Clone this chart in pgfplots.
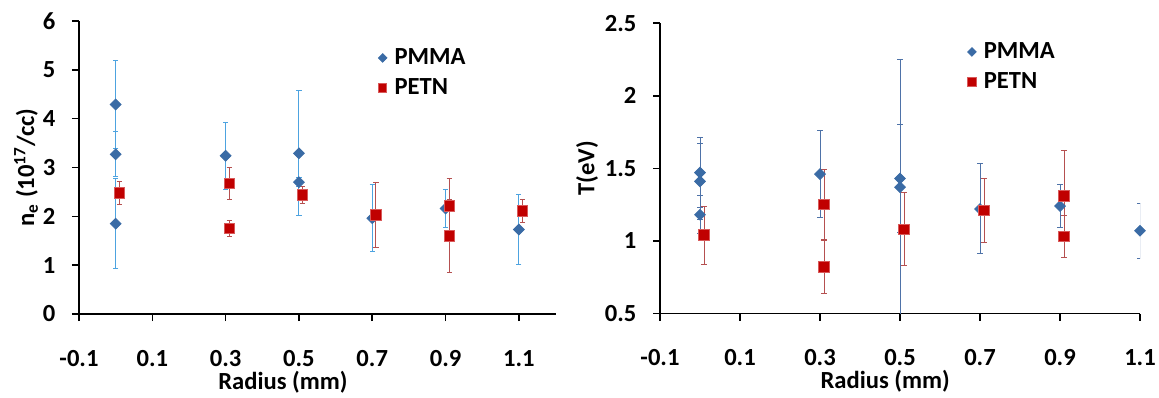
\documentclass[border=0pt]{standalone}
\usepackage{pgfplots}
\usepackage{pgfplotstable}
\pgfplotsset{compat=1.18}
\usepackage{fontspec}
\setmainfont{Carlito}

\definecolor{pmma}{HTML}{3A6BA5}
\definecolor{pmmaerrL}{HTML}{4DA3E0}
\definecolor{pmmaerrR}{HTML}{4E72A8}
\definecolor{petn}{HTML}{C00000}
\definecolor{petnedge}{HTML}{D85A5A}
\definecolor{petnerr}{HTML}{B55050}

% Left chart: electron density
\pgfplotstableread{
x     y     e
0.00  4.29  0.91
0.00  3.27  0.46
0.00  1.85  0.92
0.30  3.24  0.69
0.50  3.29  1.28
0.50  2.70  0.09
0.70  1.96  0.69
0.90  2.16  0.39
1.10  1.73  0.72
}\nePMMA
\pgfplotstableread{
x     y     e
0.01  2.48  0.23
0.31  2.68  0.33
0.31  1.75  0.17
0.51  2.44  0.17
0.71  2.03  0.66
0.91  2.21  0.56
0.91  1.60  0.75
1.11  2.11  0.23
}\nePETN
% Right chart: temperature
\pgfplotstableread{
x     y     e
0.00  1.47  0.24
0.00  1.41  0.26
0.00  1.18  0.13
0.30  1.46  0.30
0.50  1.43  0.37
0.50  1.37  0.88
0.70  1.22  0.31
0.90  1.24  0.15
1.10  1.07  0.19
}\TPMMA
\pgfplotstableread{
x     y     e
0.01  1.04  0.20
0.31  1.25  0.24
0.31  0.82  0.18
0.51  1.08  0.25
0.71  1.21  0.22
0.91  1.31  0.31
0.91  1.03  0.145
}\TPETN
\pgfplotstableread{
x     y     e
1.11  1.24  0.23
}\TPETNnomark

\pgfplotsset{
  mystyle/.style={
    scale only axis,
    axis lines*=left,
    axis line style={line width=0.8pt,-},
    tick style={line width=0.8pt,black},
    tick align=outside,
    major tick length=3.5pt,
    font=\bfseries\fontsize{12.3}{14}\selectfont,
    ticklabel style={font=\bfseries\fontsize{12.3}{14}\selectfont},
    xticklabel style={yshift=-11pt},
    yticklabel style={xshift=-4.75pt},
    /pgf/number format/assume math mode=true,
    xtick={-0.1,0.1,0.3,0.5,0.7,0.9,1.1},
    xlabel={Radius (mm)},
    legend cell align=left,
    legend image code/.code={\draw[#1, every mark/.append style={scale=0.8}] plot coordinates {(0pt,0pt)};},
    legend style={draw=none, fill=none, inner sep=0pt, row sep=2.5pt,
      font=\bfseries\fontsize{12.3}{14}\selectfont,
      nodes={inner sep=1.5pt},
      /tikz/every odd column/.append style={column sep=2.3pt}},
  },
  pmmaL/.style={only marks, mark=square*, mark size=1.9pt, color=pmma,
    mark options={rotate=45},
    error bars/.cd, y dir=both, y explicit,
    error bar style={color=pmmaerrL, line width=0.5pt},
    error mark options={color=pmmaerrL, mark size=1.3pt, line width=0.5pt, rotate=90}},
  pmmaR/.style={only marks, mark=square*, mark size=1.9pt, color=pmma,
    mark options={rotate=45},
    error bars/.cd, y dir=both, y explicit,
    error bar style={color=pmmaerrR, line width=0.5pt},
    error mark options={color=pmmaerrR, mark size=1.3pt, line width=0.5pt, rotate=90}},
  petn/.style={only marks, mark=square*, mark size=2.6pt, color=petn,
    mark options={fill=petn, draw=petnedge, line width=0.4pt},
    error bars/.cd, y dir=both, y explicit,
    error bar style={color=petnerr, line width=0.5pt},
    error mark options={color=petnerr, mark size=1.3pt, line width=0.5pt, rotate=90}},
}

\begin{document}
\begin{tikzpicture}
\begin{axis}[mystyle,
  at={(39.5pt,41.5pt)}, anchor=south west,
  width=238.25pt, height=146.5pt,
  xmin=-0.1, xmax=1.2, ymin=0, ymax=6,
  ytick={0,1,...,6},
  ylabel={n\textsubscript{e} (10\textsuperscript{17}/cc)},
  ylabel style={at={(axis description cs:-0.111,0.5)}, anchor=center},
  xlabel style={at={(axis description cs:0.428,0)}, anchor=center, yshift=-34pt},
  legend style={at={(axis description cs:0.6275,0.918)}, anchor=north west},
]
\addplot[pmmaL] table[x=x, y=y, y error=e] {\nePMMA};
\addlegendentry{PMMA}
\addplot[petn] table[x=x, y=y, y error=e] {\nePETN};
\addlegendentry{PETN}
\end{axis}

\begin{axis}[mystyle,
  at={(330pt,41.75pt)}, anchor=south west,
  width=240pt, height=145.2pt,
  xmin=-0.1, xmax=1.1, ymin=0.5, ymax=2.5,
  ytick={0.5,1,1.5,2,2.5},
  ylabel={T(eV)},
  ylabel style={at={(axis description cs:-0.152,0.5)}, anchor=center},
  xlabel style={at={(axis description cs:0.469,0)}, anchor=center, yshift=-34pt},
  legend style={at={(axis description cs:0.64,0.945)}, anchor=north west},
]
\addplot[pmmaR] table[x=x, y=y, y error=e] {\TPMMA};
\addlegendentry{PMMA}
\addplot[petn] table[x=x, y=y, y error=e] {\TPETN};
\addlegendentry{PETN}
\addplot[forget plot, only marks, mark=none,
  error bars/.cd, y dir=both, y explicit,
  error bar style={color=petnerr, line width=0.5pt},
  error mark options={color=petnerr, mark size=1.3pt, line width=0.5pt, rotate=90}]
  table[x=x, y=y, y error=e] {\TPETNnomark};
\end{axis}
\pgfresetboundingbox
\useasboundingbox (0,0) rectangle (579.5pt,198.5pt);
\end{tikzpicture}
\end{document}
